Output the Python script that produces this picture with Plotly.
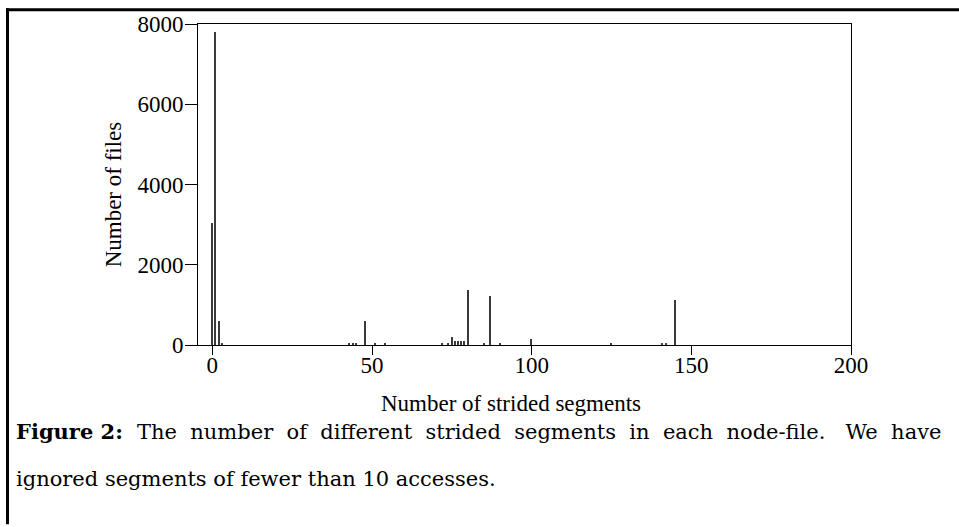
import plotly.graph_objects as go

# Data
segments = [0, 1, 2, 3, 43, 44, 45, 48, 51, 54, 72, 74, 75, 76, 77, 78, 79, 80,
            85, 87, 90, 100, 125, 141, 142, 145]
files = [3050, 7800, 600, 55, 50, 50, 50, 590, 40, 40, 40, 50, 190, 100, 100, 100, 100, 1370,
         45, 1230, 50, 150, 35, 45, 45, 1130]
x_ticks = [0, 50, 100, 150, 200]
y_ticks = [0, 2000, 4000, 6000, 8000]

W, H = 959, 527
L, R, T, B = 198, 851, 19, 345


def px(xp):
    return (xp - L) / (R - L)


def py(yp):
    return (B - yp) / (B - T)


fig = go.Figure()
fig.add_trace(go.Bar(x=segments, y=files, width=0.45,
                     marker=dict(color="#3a3a3a", line=dict(width=0))))

serif = "Liberation Serif"
fig.update_layout(
    width=W, height=H,
    margin=dict(l=L, r=W - R, t=T, b=H - B),
    plot_bgcolor="white", paper_bgcolor="white",
    showlegend=False,
    font=dict(family=serif, size=23, color="black"),
    bargap=0,
)
fig.update_xaxes(range=[-4.5, 200], tickvals=x_ticks, ticks="outside", ticklen=9,
                 tickcolor="black", showline=True, linecolor="black", linewidth=1,
                 mirror=True, showgrid=False, zeroline=False, ticklabelstandoff=-10,
                 tickfont=dict(family=serif, size=23))
fig.update_yaxes(range=[0, 8000], tickvals=y_ticks, ticks="outside", ticklen=12,
                 tickcolor="black", showline=True, linecolor="black", linewidth=1,
                 mirror=True, showgrid=False, zeroline=False, ticklabelstandoff=-3,
                 tickfont=dict(family=serif, size=23))

# axis titles
fig.add_annotation(xref="paper", yref="paper", x=px(511), y=py(404), xanchor="center", yanchor="middle",
                   showarrow=False, text="Number of strided segments",
                   font=dict(family=serif, size=23, color="black"))
fig.add_annotation(xref="paper", yref="paper", x=px(113), y=py(192), xanchor="center", yanchor="middle",
                   showarrow=False, text="Number of files", textangle=-90,
                   font=dict(family=serif, size=23, color="black"))

# outer figure frame (top and left thick lines)
fig.add_shape(type="line", xref="paper", yref="paper", x0=px(6), x1=px(959), y0=py(4.5), y1=py(4.5),
              line=dict(color="black", width=3))
fig.add_shape(type="line", xref="paper", yref="paper", x0=px(7.5), x1=px(7.5), y0=py(3), y1=py(527),
              line=dict(color="black", width=3))

cap = "DejaVu Serif"
sp = "&nbsp; "
line1 = sp.join("The number of different strided segments in each node-file.".split(" ")) + sp + "&nbsp;We" + sp + "have"
fig.add_annotation(xref="paper", yref="paper", x=px(14), y=py(433), xanchor="left", yanchor="middle",
                   showarrow=False, text="<b>Figure 2:</b>",
                   font=dict(family=cap, size=21, color="black"))
fig.add_annotation(xref="paper", yref="paper", x=px(943), y=py(433), xanchor="right", yanchor="middle",
                   showarrow=False, text=line1,
                   font=dict(family=cap, size=21, color="black"))
fig.add_annotation(xref="paper", yref="paper", x=px(14), y=py(481), xanchor="left", yanchor="middle",
                   showarrow=False,
                   text="ignored segments of fewer than 10 accesses.",
                   font=dict(family=cap, size=21, color="black"))

fig.write_html("out.html", config={"displayModeBar": False},
               post_script="document.body.style.margin='0';document.body.style.overflow='hidden';")
